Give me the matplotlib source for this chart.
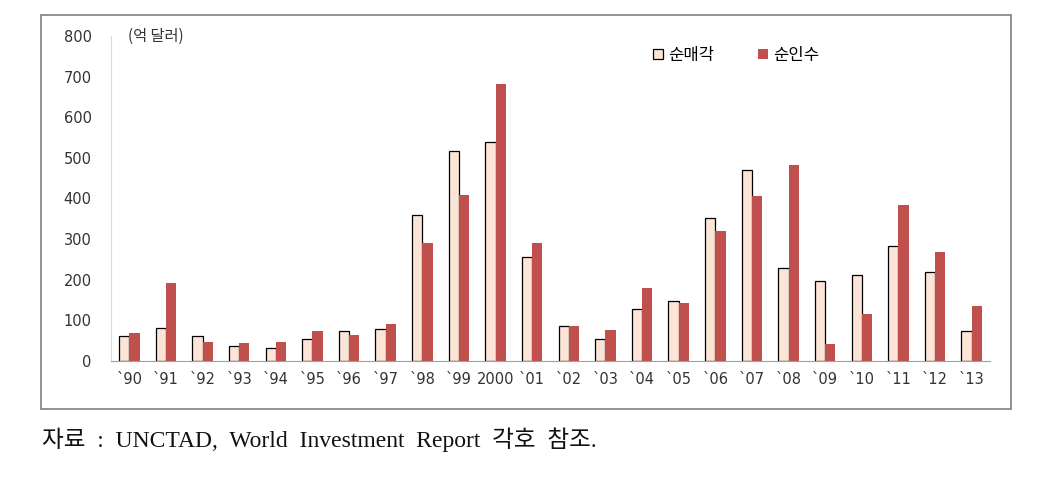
import numpy as np
import matplotlib.pyplot as plt
from matplotlib.patches import Rectangle

years = ["`90", "`91", "`92", "`93", "`94", "`95", "`96", "`97", "`98", "`99", "2000",
         "`01", "`02", "`03", "`04", "`05", "`06", "`07", "`08", "`09", "`10", "`11", "`12", "`13"]
net_sales = [62, 82, 62, 38, 33, 54, 75, 80, 360, 518, 540,
             257, 85, 53, 128, 148, 353, 470, 228, 198, 212, 282, 220, 75]
net_purchases = [70, 193, 48, 44, 46, 75, 65, 90, 290, 408, 682,
                 290, 85, 77, 180, 142, 320, 405, 483, 42, 115, 385, 268, 135]

kr = ["Noto Sans CJK KR", "DejaVu Sans"]

fig = plt.figure(figsize=(10.43, 4.88), dpi=100)
fig.patches.append(Rectangle((41 / 1043, 1 - 409 / 488), 970 / 1043, 394 / 488,
                             transform=fig.transFigure, fill=False,
                             edgecolor="#7f7f7f", linewidth=1.2))

ax = fig.add_axes([111 / 1043, 1 - 361 / 488, 879 / 1043, 325 / 488])
x = np.arange(len(years))
w = 0.28
ax.bar(x - w / 2, net_sales, w, color="#FCE4D6", edgecolor="black", linewidth=0.9,
       label="순매각")
ax.bar(x + w / 2, net_purchases, w, color="#C0504D", label="순인수")

ax.set_xlim(-0.5, len(years) - 0.5)
ax.set_ylim(0, 800)
ax.set_yticks(range(0, 801, 100))
ax.set_xticks(x)
ax.set_xticklabels(years)
ax.tick_params(length=0, labelsize=10.5, colors="#333333")
ax.tick_params(axis="y", pad=14)
ax.tick_params(axis="x", pad=8)
for s in ["top", "right"]:
    ax.spines[s].set_visible(False)
ax.spines["left"].set_color("#d9d9d9")
ax.spines["bottom"].set_color("#a0a0a0")

ax.text(0.019, 1.0, "(억 달러)", transform=ax.transAxes, fontsize=11,
        family=kr, color="#333333", va="center", ha="left")
ax.legend(loc="center left", bbox_to_anchor=(0.6, 0.94), ncol=2, frameon=False,
          prop={"family": kr, "size": 12}, handlelength=0.6, handleheight=0.6,
          columnspacing=2.6, handletextpad=0.3)

fig.text(42 / 1043, 1 - 440 / 488,
         "자료  :  UNCTAD,  World  Investment  Report  각호  참조.",
         fontsize=17, family=["Liberation Serif", "Noto Sans CJK KR"], va="center",
         color="#111111", fontweight="light")

fig.savefig("out.png", dpi=100)
